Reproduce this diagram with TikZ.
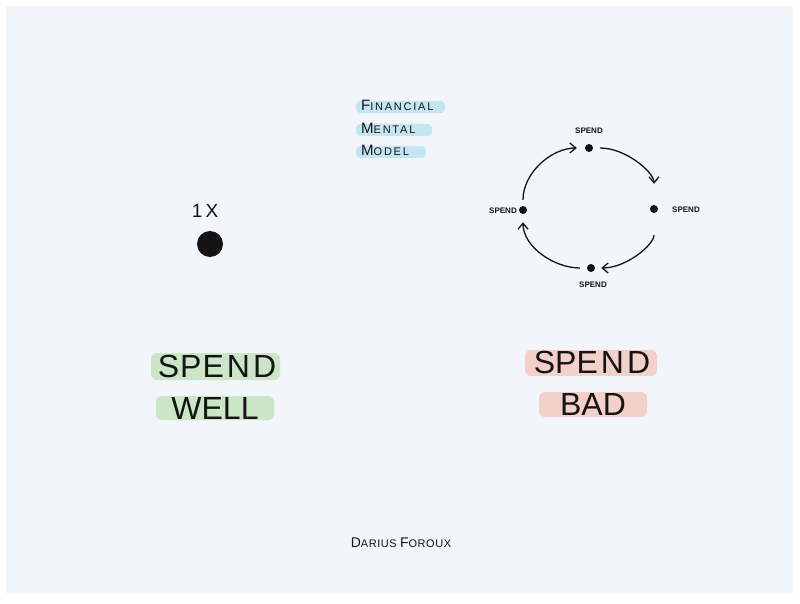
\documentclass[tikz,border=0pt]{standalone}
\usepackage{fontspec}
\setmainfont{Liberation Sans}
\newfontfamily\spacedfont[LetterSpace=16]{Liberation Sans}
\newfontfamily\authfont[LetterSpace=5]{Liberation Sans}
\usetikzlibrary{arrows.meta}
\definecolor{paper}{HTML}{F2F6FA}
\definecolor{hlblue}{HTML}{C4E6F2}
\definecolor{hlgreen}{HTML}{CBE6C6}
\definecolor{hlpink}{HTML}{F4D0CA}
\definecolor{ink}{HTML}{141414}
\newcommand\mysc[4]{{\fontsize{#1}{#1}\selectfont #3}{\fontsize{#2}{#2}\selectfont #4}}
\tikzset{
  bigtxt/.style={font=\fontsize{32}{32}\selectfont, text=ink, inner sep=0pt},
  titletxt/.style={anchor=base west, inner sep=0pt, text=ink, font=\spacedfont},
  smalllbl/.style={font=\fontsize{8}{8}\selectfont\bfseries, text=ink, inner sep=0pt},
  cycdot/.style={circle, fill=ink, minimum size=8pt, inner sep=0pt},
  cyc/.style={draw=ink, line width=1.3pt, -{Straight Barb[length=6pt,width=10pt,line width=1.3pt]}},
  hl/.style={rounded corners=6pt},
}
\begin{document}
\begin{tikzpicture}[x=1pt,y=-1pt]
\useasboundingbox (0,0) rectangle (800,604);
\fill[white] (0,0) rectangle (800,604);
\fill[paper] (6,6) rectangle (793,593);
% title highlights
\fill[hlblue,hl,rounded corners=4pt] (356,101) rectangle (445,113);
\fill[hlblue,hl,rounded corners=4pt] (356,124) rectangle (432,136);
\fill[hlblue,hl,rounded corners=4pt] (356,146) rectangle (426,158);
\node[titletxt] (t1) at (361,111) {\mysc{15}{11}{F}{INANCIAL}};
\node[titletxt] (t2) at (361,134) {\mysc{15}{11}{M}{ENTAL}};
\node[titletxt] (t3) at (361,156) {\mysc{15}{11}{M}{ODEL}};
% 1x
\node[inner sep=0pt, text=ink, font=\fontsize{19}{19}\selectfont] (onex) at (205,211) {1\,X};
\node[circle, fill=ink, minimum size=26pt, inner sep=0pt] (bigdot) at (210,244) {};
% spend well
\fill[hlgreen,hl] (151,353) rectangle (280,380);
\fill[hlgreen,hl] (156,396) rectangle (274,420);
\node[bigtxt] (sw1) at (217,366) {S\kern1pt P\kern1pt E\kern3pt N\kern3pt D};
\node[bigtxt] (sw2) at (215,408) {WELL};
% spend bad
\fill[hlpink,hl] (525,350) rectangle (657,376);
\fill[hlpink,hl] (539,392) rectangle (647,417);
\node[bigtxt] (sb1) at (592,362) {SPE\kern3pt N\kern3pt D};
\node[bigtxt] (sb2) at (593,404) {BAD};
% cycle
\node[cycdot] (ctop) at (589,148) {};
\node[cycdot] (cright) at (654,209) {};
\node[cycdot] (cbot) at (591,268) {};
\node[cycdot] (cleft) at (523,210) {};
\node[smalllbl] (ltop) at (589,131) {SPEND};
\node[smalllbl] (lright) at (686,210) {SPEND};
\node[smalllbl] (lbot) at (593,285) {SPEND};
\node[smalllbl] (lleft) at (503,211) {SPEND};
\draw[cyc, shorten <=7pt, shorten >=21pt] (ctop) to[out=0,in=90] (cright);
\draw[cyc, shorten <=22pt, shorten >=6pt] (cright) to[out=-90,in=0] (cbot);
\draw[cyc, shorten <=7pt, shorten >=8pt] (cbot) to[out=180,in=-90] (cleft);
\draw[cyc, shorten <=6pt, shorten >=8pt] (cleft) to[out=90,in=180] (ctop);
% author
\node[anchor=base, inner sep=0pt, text=ink, font=\authfont] (author) at (401,547) {\mysc{14}{11}{D}{ARIUS} \mysc{14}{11}{F}{OROUX}};
\end{tikzpicture}
\end{document}
